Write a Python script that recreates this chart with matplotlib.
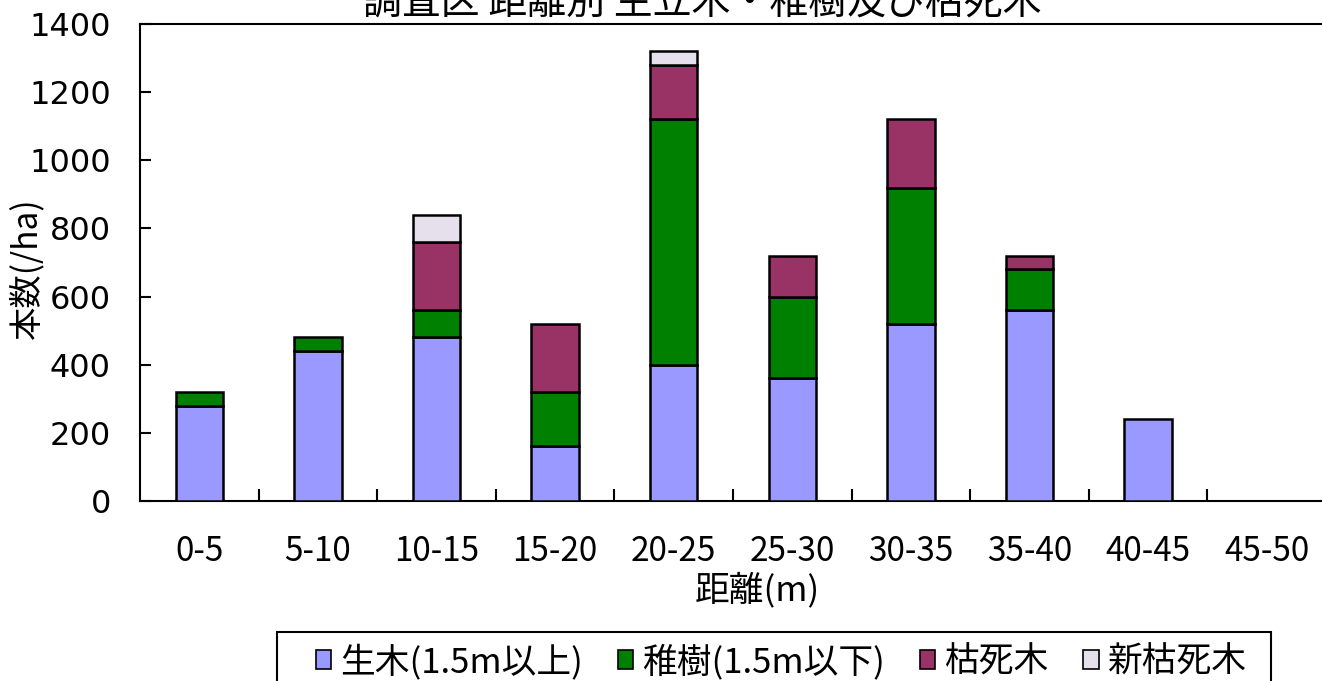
import numpy as np
import matplotlib.pyplot as plt
from matplotlib.patches import Patch, Rectangle

plt.rcParams['font.family'] = ['Noto Sans CJK JP', 'DejaVu Sans']

# 距離区分ごとの本数 (/ha)
distances = ['0-5', '5-10', '10-15', '15-20', '20-25', '25-30', '30-35', '35-40', '40-45', '45-50']
live = [280, 440, 480, 160, 400, 360, 520, 560, 240, 0]
sapling = [40, 40, 80, 160, 720, 240, 400, 120, 0, 0]
dead = [0, 0, 200, 200, 160, 120, 200, 40, 0, 0]
new_dead = [0, 0, 80, 0, 40, 0, 0, 0, 0, 0]

series_names = ['生木(1.5m以上)', '稚樹(1.5m以下)', '枯死木', '新枯死木']
colors = ['#9999FF', '#008000', '#993366', '#E6E0EC']

W, H = 1322, 681
fig = plt.figure(figsize=(W / 100, H / 100), dpi=100)
ax = fig.add_axes([140 / W, 1 - 501 / H, (1326 - 140) / W, (501 - 24) / H])

x = np.arange(len(distances))
bottom = np.zeros(len(distances))
for vals, name, c in zip([live, sapling, dead, new_dead], series_names, colors):
    vals = np.array(vals, dtype=float)
    mask = vals > 0
    ax.bar(x[mask], vals[mask], bottom=bottom[mask], width=0.40, color=c,
           edgecolor='black', linewidth=1.8, zorder=3)
    bottom += vals

ax.set_xlim(-0.5, len(distances) - 0.5)
ax.set_ylim(0, 1400)
ax.set_yticks(np.arange(0, 1401, 200))
ax.set_xticks(x)
ax.set_xticklabels(distances, fontsize=24)
ax.set_xticks(np.arange(0.5, len(distances) - 0.5, 1), minor=True)
for lab in ax.get_yticklabels():
    lab.set_family('DejaVu Sans')
    lab.set_fontsize(23)

ax.tick_params(axis='y', direction='in', length=8, width=1.5, pad=21)
ax.tick_params(axis='x', which='major', length=0, pad=24)
ax.tick_params(axis='x', which='minor', direction='in', length=9, width=1.5)
for s in ax.spines.values():
    s.set_linewidth(1.5)

fig.text(757 / W, 1 - 590 / H, '距離(m)', ha='center', va='center', fontsize=25)
fig.text(27 / W, 1 - 268 / H, '本数(/ha)', ha='center', va='center', fontsize=24, rotation=90)

fig.text(702 / W, 1 - 24 / H, '調査区 距離別 生立木・稚樹及び枯死木',
         ha='center', va='bottom', fontsize=28)

# 凡例 (枠は別に描く)
handles = [Patch(facecolor=c, edgecolor='black', linewidth=1.2) for c in colors]
leg = fig.legend(handles, series_names, loc='upper center', ncol=4,
                 bbox_to_anchor=(781 / W, 1 - 632 / H), fontsize=25,
                 handlelength=0.45, handleheight=0.45, handletextpad=0.25,
                 columnspacing=1.0, borderpad=0.35, borderaxespad=0,
                 frameon=False)
fig.patches.append(Rectangle((277 / W, 1 - 700 / H), (1271 - 277) / W, 68 / H,
                             transform=fig.transFigure, facecolor='none',
                             edgecolor='black', linewidth=1.5))

fig.savefig('out.png', dpi=100)
